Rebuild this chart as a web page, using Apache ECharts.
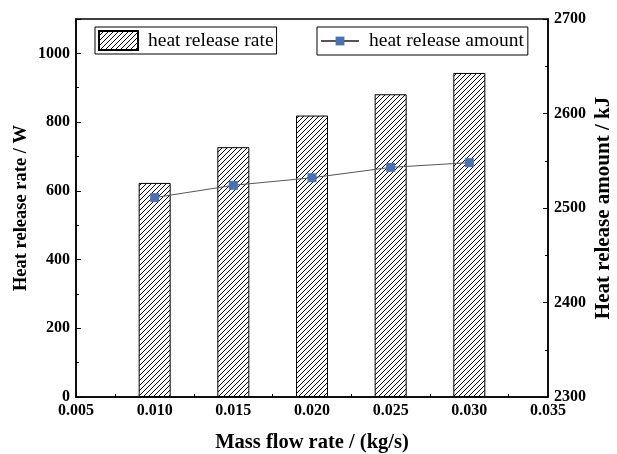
<!DOCTYPE html>
<html>
<head>
<meta charset="utf-8">
<script src="https://cdn.jsdelivr.net/npm/echarts@6/dist/echarts.min.js"></script>
<style>
  html, body { margin: 0; padding: 0; background: #fff; }
  #chart { width: 617px; height: 454px; }
</style>
</head>
<body>
<div id="chart"></div>
<script>
// Mass flow rate (kg/s)
const flowRates = [0.010, 0.015, 0.020, 0.025, 0.030];
// Heat release rate (W)
const releaseRate = [623, 727, 819, 881, 943];
// Heat release amount (kJ)
const releaseAmount = [2511, 2524, 2532, 2543, 2548];

const serif = 'Liberation Serif, Times New Roman, serif';

// Diagonal hatch fill for the bars
function hatchPattern() {
  const s = 5;
  const c = document.createElement('canvas');
  c.width = s; c.height = s;
  const g = c.getContext('2d');
  g.fillStyle = '#fff';
  g.fillRect(0, 0, s, s);
  g.strokeStyle = '#000';
  g.lineWidth = 1;
  g.beginPath();
  g.moveTo(0, s); g.lineTo(s, 0);
  g.moveTo(-1, 1); g.lineTo(1, -1);
  g.moveTo(s - 1, s + 1); g.lineTo(s + 1, s - 1);
  g.stroke();
  return { image: c, repeat: 'repeat' };
}

const chart = echarts.init(document.getElementById('chart'));
const axisLine = { show: true, lineStyle: { color: '#000', width: 1.5 } };
const tickLabel = { color: '#000', fontFamily: serif, fontWeight: 'bold', fontSize: 16 };
const nameStyle = size => ({ color: '#000', fontFamily: serif, fontWeight: 'bold', fontSize: size });
const majorTick = { show: true, inside: true, length: 5, lineStyle: { color: '#000', width: 1 } };
const minorTick = { show: true, splitNumber: 2, length: 3, lineStyle: { color: '#000', width: 1 } };

chart.setOption({
  animation: false,
  grid: {
    left: 76, right: 69, top: 19, bottom: 57,
    outerBoundsMode: 'none', containLabel: false,
    show: true, borderColor: '#000', borderWidth: 1.5, backgroundColor: 'transparent'
  },
  legend: [
    {
      data: [{ name: 'heat release rate', icon: 'rect' }],
      left: 95, top: 27,
      padding: [3, 3, 3, 3],
      itemWidth: 39, itemHeight: 19,
      borderColor: '#000', borderWidth: 1,
      textStyle: { fontFamily: serif, fontSize: 19.5, color: '#000', padding: [0, 0, 0, 5] }
    },
    {
      data: ['heat release amount'],
      left: 317, top: 27,
      padding: [4, 4, 4, 3],
      itemWidth: 38, itemHeight: 11,
      borderColor: '#000', borderWidth: 1,
      textStyle: { fontFamily: serif, fontSize: 19.5, color: '#000', padding: [0, 0, 0, 5] }
    }
  ],
  xAxis: {
    type: 'value',
    min: 0.005, max: 0.035, interval: 0.005,
    name: 'Mass flow rate / (kg/s)',
    nameLocation: 'middle', nameGap: 35,
    nameTextStyle: nameStyle(20.5),
    axisLine: axisLine,
    axisTick: majorTick,
    minorTick: minorTick,
    axisLabel: Object.assign({ formatter: v => v.toFixed(3), margin: 6 }, tickLabel),
    splitLine: { show: false }
  },
  yAxis: [
    {
      type: 'value',
      min: 0, max: 1100, interval: 200,
      name: 'Heat release rate / W',
      nameLocation: 'middle', nameGap: 45, nameMoveOverlap: false,
      nameTextStyle: nameStyle(18.5),
      axisLine: axisLine,
      axisTick: majorTick,
      minorTick: minorTick,
      axisLabel: Object.assign({ formatter: v => String(v), showMaxLabel: false, margin: 6 }, tickLabel),
      splitLine: { show: false }
    },
    {
      type: 'value',
      min: 2300, max: 2700, interval: 100,
      name: 'Heat release amount / kJ',
      nameLocation: 'middle', nameGap: 45, nameRotate: 90, nameMoveOverlap: false,
      nameTextStyle: nameStyle(21),
      axisLine: axisLine,
      axisTick: majorTick,
      minorTick: minorTick,
      axisLabel: Object.assign({ formatter: v => String(v), margin: 6 }, tickLabel),
      splitLine: { show: false }
    }
  ],
  series: [
    {
      name: 'heat release rate',
      type: 'bar',
      barWidth: 32,
      data: flowRates.map((x, i) => [x, releaseRate[i]]),
      itemStyle: { color: hatchPattern(), borderColor: '#000', borderWidth: 1 }
    },
    {
      name: 'heat release amount',
      type: 'line',
      yAxisIndex: 1,
      data: flowRates.map((x, i) => [x, releaseAmount[i]]),
      symbol: 'rect', symbolSize: 9,
      lineStyle: { color: '#555', width: 1 },
      itemStyle: { color: '#4A72B3' }
    }
  ]
});
</script>
</body>
</html>
